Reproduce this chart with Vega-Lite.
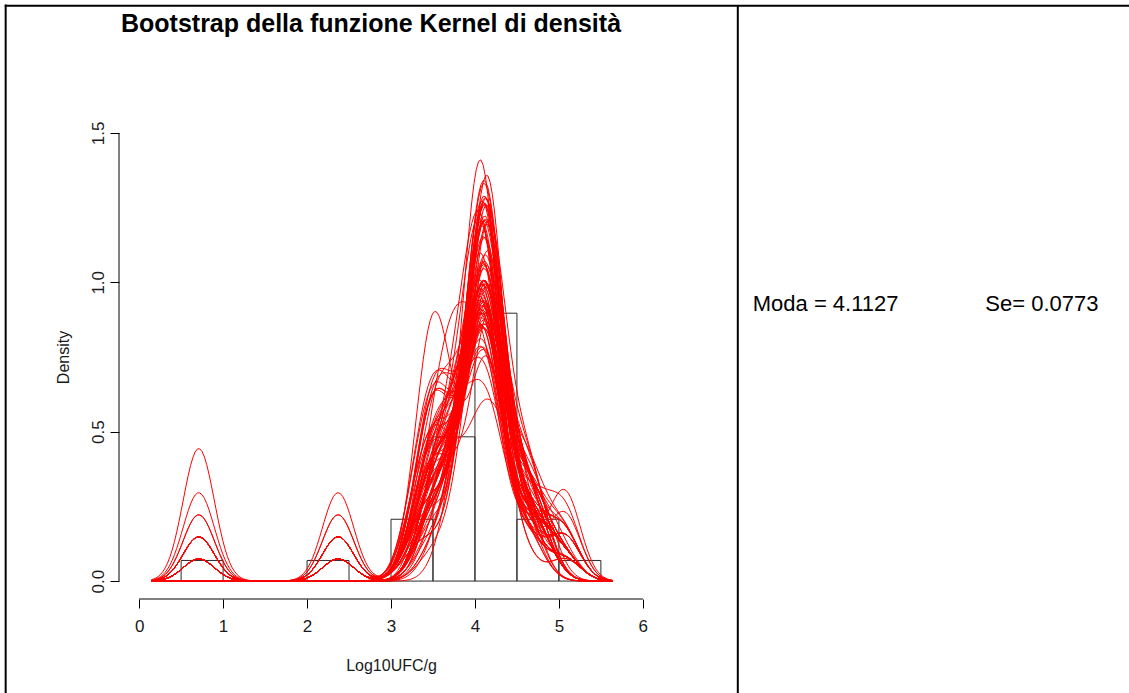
{
  "$schema": "https://vega.github.io/schema/vega-lite/v6.json",
  "width": 544,
  "height": 484,
  "autosize": {"type": "none"},
  "padding": {"left": 119, "top": 115, "right": 466, "bottom": 94},
  "background": "#ffffff",
  "config": {
    "view": {"stroke": null},
    "font": "Liberation Sans",
    "axis": {"labelFlush": false, "grid": false, "domain": false}
  },
  "datasets": {
    "hist": [
      {"lo": 0.5, "hi": 1.0, "density": 0.069},
      {"lo": 1.0, "hi": 1.5, "density": 0},
      {"lo": 1.5, "hi": 2.0, "density": 0},
      {"lo": 2.0, "hi": 2.5, "density": 0.069},
      {"lo": 2.5, "hi": 3.0, "density": 0},
      {"lo": 3.0, "hi": 3.5, "density": 0.2069},
      {"lo": 3.5, "hi": 4.0, "density": 0.4828},
      {"lo": 4.0, "hi": 4.5, "density": 0.8966},
      {"lo": 4.5, "hi": 5.0, "density": 0.2069},
      {"lo": 5.0, "hi": 5.5, "density": 0.069}
    ],
    "boot": [
      {"b": 1, "v": [0.71,2.37,3.28,3.42,3.48,3.54,3.60,3.68,3.76,3.84,3.91,3.97,4.02,4.05,4.07,4.09,4.11,4.12,4.14,4.17,4.20,4.24,4.29,4.36,4.45,4.57,4.68,4.82,5.07]},
      {"b": 2, "v": [2.37,3.28,3.42,3.42,3.48,3.48,3.54,3.54,3.60,3.68,3.68,3.76,3.84,3.91,3.97,4.02,4.05,4.07,4.07,4.11,4.12,4.14,4.17,4.20,4.24,4.36,4.57,4.57,4.68]},
      {"b": 3, "v": [0.71,0.71,3.48,3.68,3.76,3.84,3.91,3.97,4.05,4.07,4.09,4.11,4.11,4.12,4.14,4.14,4.17,4.17,4.20,4.20,4.24,4.29,4.29,4.36,4.57,4.57,4.68,4.82,5.07]},
      {"b": 4, "v": [3.28,3.28,3.42,3.48,3.54,3.60,3.60,3.68,3.76,3.84,3.91,3.91,4.02,4.05,4.07,4.09,4.11,4.14,4.17,4.20,4.24,4.29,4.36,4.45,4.57,4.68,4.68,4.82,5.07]},
      {"b": 5, "v": [0.71,2.37,2.37,3.42,3.48,3.60,3.76,3.84,3.91,3.97,3.97,4.02,4.02,4.05,4.05,4.07,4.09,4.09,4.11,4.12,4.14,4.17,4.20,4.24,4.29,4.36,4.57,4.68,4.82]},
      {"b": 6, "v": [0.71,0.71,0.71,0.71,0.71,0.71,3.28,3.48,3.54,3.68,3.76,3.84,3.91,3.97,4.02,4.05,4.09,4.11,4.12,4.14,4.17,4.20,4.24,4.29,4.36,4.57,4.68,4.82,5.07]},
      {"b": 7, "v": [2.37,3.28,3.28,3.42,3.42,3.48,3.48,3.54,3.60,3.60,3.68,3.76,3.84,3.91,3.97,4.02,4.05,4.07,4.11,4.12,4.14,4.17,4.20,4.29,4.45,4.57,4.68,5.07,5.07]},
      {"b": 8, "v": [0.71,3.68,3.76,3.84,3.91,3.97,3.97,4.02,4.05,4.07,4.07,4.09,4.09,4.11,4.11,4.12,4.14,4.14,4.17,4.20,4.24,4.24,4.29,4.36,4.45,4.57,4.57,4.68,4.82]},
      {"b": 9, "v": [2.37,2.37,2.37,2.37,3.28,3.42,3.48,3.54,3.60,3.68,3.76,3.84,3.91,3.97,4.02,4.05,4.07,4.09,4.11,4.12,4.14,4.17,4.20,4.24,4.29,4.57,4.68,4.82,5.07]},
      {"b": 10, "v": [0.71,0.71,2.37,3.42,3.48,3.54,3.60,3.68,3.76,3.76,3.84,3.91,3.97,3.97,4.02,4.02,4.05,4.07,4.09,4.11,4.12,4.14,4.17,4.17,4.20,4.24,4.36,4.57,4.68]},
      {"b": 11, "v": [0.71,2.37,3.28,3.42,3.48,3.54,3.68,3.76,3.84,3.91,3.97,4.02,4.05,4.07,4.09,4.11,4.12,4.14,4.17,4.20,4.24,4.29,4.36,4.57,4.68,5.07,5.07,5.07,5.07]},
      {"b": 12, "v": [3.28,3.42,3.42,3.42,3.48,3.48,3.48,3.54,3.54,3.54,3.60,3.60,3.68,3.76,3.84,4.02,4.05,4.07,4.09,4.11,4.14,4.17,4.20,4.24,4.29,4.36,4.57,4.68,5.07]},
      {"b": 13, "v": [0.71,0.71,0.71,2.37,3.28,3.42,3.48,3.48,3.54,3.60,3.68,3.76,3.84,3.91,3.97,4.02,4.05,4.09,4.11,4.14,4.17,4.20,4.24,4.29,4.36,4.57,4.68,4.82,5.07]},
      {"b": 14, "v": [2.37,2.37,3.42,3.60,3.76,3.84,3.91,3.97,3.97,4.02,4.02,4.05,4.05,4.07,4.07,4.09,4.11,4.12,4.12,4.14,4.17,4.20,4.24,4.29,4.36,4.45,4.57,4.68,4.82]},
      {"b": 15, "v": [0.71,3.28,3.42,3.48,3.60,3.68,3.76,3.84,3.97,4.02,4.05,4.07,4.09,4.11,4.12,4.14,4.17,4.20,4.24,4.29,4.36,4.45,4.57,4.57,4.68,4.68,4.82,5.07,5.07]},
      {"b": 16, "v": [0.71,0.71,0.71,0.71,2.37,3.28,3.42,3.48,3.54,3.60,3.68,3.76,3.84,3.91,3.97,4.02,4.05,4.07,4.09,4.11,4.12,4.14,4.17,4.20,4.29,4.45,4.57,4.68,4.82]},
      {"b": 17, "v": [3.42,3.48,3.60,3.76,3.84,3.91,3.97,3.97,4.02,4.02,4.05,4.05,4.05,4.05,4.07,4.07,4.09,4.09,4.11,4.12,4.14,4.14,4.17,4.20,4.29,4.57,4.68,4.82,5.07]},
      {"b": 18, "v": [0.71,2.37,2.37,2.37,3.28,3.48,3.54,3.60,3.68,3.68,3.76,3.84,3.91,3.97,4.02,4.05,4.07,4.11,4.14,4.17,4.20,4.24,4.29,4.36,4.57,4.57,4.68,4.82,5.07]},
      {"b": 19, "v": [2.37,3.42,3.48,3.48,3.54,3.60,3.68,3.68,3.76,3.76,3.76,3.76,3.84,3.84,3.91,3.97,4.02,4.05,4.07,4.11,4.12,4.17,4.20,4.24,4.29,4.57,4.68,4.82,5.07]},
      {"b": 20, "v": [0.71,0.71,2.37,2.37,3.28,3.28,3.42,3.48,3.48,3.54,3.60,3.68,3.76,3.84,3.97,4.02,4.07,4.11,4.14,4.20,4.24,4.29,4.36,4.45,4.57,4.68,4.68,4.82,5.07]},
      {"b": 21, "v": [0.71,3.42,3.48,3.54,3.60,3.68,3.76,3.84,3.91,3.97,4.02,4.05,4.07,4.09,4.09,4.11,4.12,4.14,4.17,4.20,4.20,4.24,4.29,4.36,4.57,4.68,5.07,5.07,5.07]},
      {"b": 22, "v": [2.37,3.28,3.42,3.48,3.48,3.54,3.54,3.60,3.68,3.68,3.76,3.84,3.84,3.91,3.97,4.02,4.05,4.07,4.09,4.11,4.12,4.14,4.17,4.20,4.24,4.29,4.36,4.57,4.68]},
      {"b": 23, "v": [0.71,2.37,3.48,3.76,3.84,3.91,3.97,4.05,4.07,4.09,4.11,4.12,4.14,4.14,4.17,4.17,4.20,4.20,4.24,4.24,4.29,4.29,4.36,4.45,4.57,4.57,4.68,4.68,4.82]},
      {"b": 24, "v": [3.28,3.42,3.48,3.54,3.60,3.68,3.76,3.84,3.91,3.97,4.02,4.05,4.05,4.07,4.09,4.11,4.12,4.14,4.17,4.20,4.24,4.29,4.36,4.45,4.57,4.68,4.82,5.07,5.07]},
      {"b": 25, "v": [0.71,0.71,2.37,3.28,3.42,3.42,3.48,3.48,3.54,3.60,3.60,3.68,3.76,3.76,3.84,3.91,3.97,4.02,4.05,4.09,4.11,4.14,4.17,4.20,4.29,4.36,4.57,4.68,5.07]},
      {"b": 26, "v": [0.71,2.37,2.37,3.54,3.68,3.76,3.84,3.91,3.97,3.97,4.02,4.05,4.07,4.09,4.11,4.12,4.14,4.17,4.20,4.24,4.24,4.29,4.36,4.45,4.57,4.68,4.68,4.82,5.07]},
      {"b": 27, "v": [2.37,3.42,3.48,3.68,3.84,3.91,3.97,3.97,4.09,4.11,4.11,4.12,4.12,4.14,4.14,4.14,4.17,4.17,4.17,4.20,4.20,4.20,4.24,4.24,4.29,4.57,4.68,4.82,5.07]},
      {"b": 28, "v": [0.71,3.28,3.42,3.42,3.48,3.54,3.60,3.68,3.76,3.91,3.97,4.02,4.05,4.07,4.09,4.11,4.12,4.14,4.17,4.20,4.24,4.29,4.36,4.45,4.57,4.57,4.68,4.82,4.82]},
      {"b": 29, "v": [2.37,2.37,3.42,3.48,3.54,3.60,3.68,3.76,3.76,3.84,3.91,3.97,4.02,4.05,4.07,4.09,4.11,4.12,4.14,4.17,4.20,4.24,4.29,4.36,4.45,4.57,4.68,4.82,5.07]},
      {"b": 30, "v": [0.71,0.71,0.71,3.28,3.42,3.48,3.54,3.60,3.68,3.68,3.76,3.84,3.84,3.91,3.97,4.02,4.05,4.07,4.09,4.11,4.12,4.14,4.17,4.20,4.24,4.29,4.57,4.68,5.07]},
      {"b": 31, "v": [0.71,2.37,3.42,3.60,3.68,3.76,3.84,3.91,3.97,4.02,4.05,4.07,4.09,4.11,4.12,4.14,4.17,4.20,4.24,4.29,4.29,4.36,4.45,4.57,4.57,4.68,4.82,5.07,5.07]},
      {"b": 32, "v": [3.28,3.42,3.48,3.54,3.60,3.68,3.76,3.84,3.84,3.91,3.91,3.97,3.97,4.02,4.02,4.05,4.05,4.07,4.09,4.11,4.12,4.14,4.17,4.20,4.24,4.29,4.36,4.57,5.07]},
      {"b": 33, "v": [0.71,0.71,2.37,3.28,3.42,3.48,3.48,3.54,3.68,3.76,3.84,3.97,4.05,4.09,4.11,4.14,4.17,4.17,4.20,4.20,4.24,4.24,4.29,4.36,4.45,4.57,4.68,4.68,4.82]},
      {"b": 34, "v": [0.71,2.37,2.37,2.37,3.28,3.42,3.48,3.54,3.60,3.68,3.76,3.84,3.91,3.97,4.02,4.05,4.07,4.09,4.09,4.11,4.12,4.17,4.20,4.29,4.45,4.57,4.68,4.82,5.07]},
      {"b": 35, "v": [2.37,3.42,3.48,3.60,3.68,3.76,3.84,3.91,3.97,4.02,4.07,4.09,4.11,4.12,4.14,4.14,4.17,4.17,4.20,4.24,4.29,4.36,4.57,4.68,4.68,4.82,5.07,5.07,5.07]},
      {"b": 36, "v": [0.71,3.42,3.48,3.54,3.68,3.76,3.84,3.91,3.97,3.97,4.02,4.02,4.05,4.05,4.07,4.07,4.09,4.11,4.12,4.14,4.17,4.20,4.24,4.29,4.36,4.45,4.57,4.68,5.07]},
      {"b": 37, "v": [2.37,2.37,3.28,3.42,3.48,3.54,3.60,3.76,3.84,3.91,3.97,4.05,4.07,4.09,4.11,4.12,4.14,4.17,4.17,4.20,4.20,4.24,4.24,4.29,4.29,4.36,4.57,4.68,4.82]},
      {"b": 38, "v": [0.71,0.71,3.28,3.28,3.42,3.42,3.48,3.48,3.54,3.54,3.60,3.68,3.76,3.76,3.84,3.91,3.97,4.02,4.07,4.11,4.14,4.17,4.20,4.29,4.36,4.57,4.68,5.07,5.07]},
      {"b": 39, "v": [0.71,2.37,3.28,3.42,3.42,3.48,3.48,3.54,3.54,3.60,3.68,3.76,3.84,3.91,3.97,4.02,4.05,4.07,4.09,4.11,4.14,4.17,4.20,4.24,4.36,4.57,4.68,4.82,5.07]},
      {"b": 40, "v": [3.42,3.48,3.54,3.60,3.68,3.76,3.76,3.84,3.84,3.91,3.91,3.97,3.97,4.02,4.02,4.05,4.07,4.07,4.09,4.11,4.12,4.14,4.17,4.20,4.24,4.29,4.36,4.57,5.07]},
      {"b": 41, "v": [0.71,2.37,2.37,3.28,3.42,3.48,3.60,3.68,3.76,3.84,3.91,3.97,4.02,4.05,4.07,4.11,4.12,4.14,4.17,4.20,4.24,4.29,4.36,4.36,4.57,4.68,4.82,5.07,5.07]},
      {"b": 42, "v": [2.37,3.28,3.48,3.54,3.68,3.76,3.84,3.91,3.97,4.05,4.07,4.09,4.09,4.11,4.11,4.12,4.14,4.14,4.17,4.20,4.24,4.29,4.36,4.45,4.57,4.57,4.68,4.68,4.82]},
      {"b": 43, "v": [0.71,3.28,3.42,3.42,3.48,3.54,3.60,3.68,3.76,3.84,3.91,3.97,4.02,4.05,4.07,4.09,4.11,4.12,4.14,4.14,4.17,4.20,4.24,4.29,4.36,4.45,4.57,4.68,5.07]},
      {"b": 44, "v": [0.71,0.71,2.37,3.42,3.48,3.54,3.60,3.68,3.76,3.76,3.84,3.84,3.91,3.97,4.02,4.02,4.05,4.07,4.09,4.11,4.14,4.17,4.20,4.20,4.24,4.29,4.57,4.68,5.07]},
      {"b": 45, "v": [2.37,3.28,3.42,3.48,3.54,3.60,3.68,3.84,3.91,3.97,4.02,4.05,4.07,4.11,4.12,4.14,4.14,4.17,4.20,4.24,4.29,4.36,4.45,4.57,4.68,4.68,4.82,5.07,5.07]},
      {"b": 46, "v": [0.71,2.37,2.37,3.28,3.42,3.48,3.60,3.76,3.84,3.91,3.97,4.02,4.05,4.07,4.09,4.09,4.11,4.12,4.14,4.17,4.20,4.24,4.29,4.36,4.45,4.57,4.57,4.68,4.82]},
      {"b": 47, "v": [3.42,3.48,3.54,3.60,3.68,3.76,3.84,3.91,3.97,4.02,4.05,4.05,4.07,4.09,4.09,4.11,4.12,4.12,4.14,4.17,4.20,4.24,4.29,4.36,4.45,4.57,4.68,4.82,5.07]},
      {"b": 48, "v": [0.71,2.37,3.28,3.42,3.48,3.48,3.54,3.60,3.68,3.76,3.84,3.84,3.91,3.97,4.02,4.05,4.07,4.09,4.11,4.12,4.14,4.20,4.20,4.24,4.36,4.57,4.68,4.82,5.07]},
      {"b": 49, "v": [0.71,0.71,2.37,3.28,3.42,3.48,3.60,3.68,3.76,3.84,3.91,3.91,3.97,4.02,4.05,4.05,4.07,4.09,4.12,4.14,4.17,4.20,4.24,4.29,4.36,4.45,4.57,4.68,4.82]},
      {"b": 50, "v": [2.37,3.48,3.54,3.60,3.68,3.76,3.84,3.91,3.97,3.97,4.02,4.05,4.07,4.09,4.11,4.12,4.14,4.14,4.17,4.20,4.24,4.29,4.36,4.45,4.57,4.68,4.68,4.82,5.07]},
      {"b": 51, "v": [0.71,3.28,3.28,3.42,3.48,3.48,3.54,3.60,3.68,3.76,3.84,3.91,3.97,4.02,4.05,4.07,4.09,4.11,4.12,4.14,4.17,4.20,4.24,4.29,4.45,4.57,4.68,4.82,5.07]},
      {"b": 52, "v": [2.37,3.28,3.42,3.48,3.54,3.60,3.60,3.68,3.76,3.84,3.91,3.97,3.97,4.02,4.05,4.07,4.07,4.09,4.11,4.12,4.14,4.17,4.20,4.24,4.29,4.36,4.45,4.57,4.68]},
      {"b": 53, "v": [0.71,2.37,3.42,3.48,3.54,3.60,3.68,3.76,3.84,3.91,3.97,4.02,4.05,4.07,4.09,4.11,4.12,4.14,4.17,4.20,4.24,4.29,4.36,4.45,4.57,4.68,4.82,5.07,5.07]},
      {"b": 54, "v": [0.71,0.71,3.28,3.42,3.42,3.48,3.54,3.68,3.76,3.84,3.91,3.97,4.02,4.05,4.09,4.11,4.12,4.14,4.17,4.20,4.24,4.29,4.36,4.45,4.57,4.68,4.82,4.82,5.07]},
      {"b": 55, "v": [2.37,2.37,3.28,3.42,3.48,3.54,3.60,3.68,3.76,3.76,3.84,3.91,3.97,4.02,4.05,4.07,4.09,4.11,4.12,4.14,4.17,4.20,4.24,4.29,4.36,4.57,4.68,4.82,5.07]},
      {"b": 56, "v": [0.71,2.37,3.42,3.48,3.60,3.68,3.76,3.84,3.91,3.97,4.02,4.05,4.07,4.09,4.11,4.11,4.12,4.14,4.14,4.17,4.17,4.20,4.24,4.29,4.36,4.45,4.57,4.68,4.82]},
      {"b": 57, "v": [3.28,3.42,3.48,3.48,3.54,3.60,3.68,3.68,3.76,3.84,3.91,3.97,4.02,4.05,4.07,4.09,4.11,4.12,4.14,4.17,4.20,4.24,4.29,4.36,4.45,4.57,4.68,5.07,5.07]},
      {"b": 58, "v": [0.71,2.37,3.28,3.42,3.48,3.60,3.76,3.84,3.91,3.97,4.02,4.05,4.07,4.09,4.11,4.12,4.14,4.17,4.20,4.20,4.24,4.29,4.36,4.45,4.57,4.57,4.68,4.82,5.07]},
      {"b": 59, "v": [2.37,3.28,3.42,3.42,3.48,3.48,3.48,3.54,3.60,3.68,3.76,3.84,3.91,3.97,4.02,4.05,4.07,4.09,4.11,4.12,4.14,4.17,4.20,4.24,4.36,4.57,4.68,4.82,5.07]},
      {"b": 60, "v": [0.71,0.71,3.28,3.42,3.48,3.54,3.60,3.68,3.76,3.84,3.91,3.97,3.97,4.02,4.05,4.07,4.09,4.11,4.12,4.14,4.17,4.20,4.24,4.29,4.36,4.45,4.57,4.68,4.82]},
      {"b": 61, "v": [0.71,2.37,2.37,3.28,3.48,3.54,3.60,3.68,3.76,3.84,3.91,3.97,4.02,4.05,4.07,4.09,4.11,4.14,4.17,4.20,4.24,4.29,4.36,4.45,4.57,4.68,4.68,4.82,5.07]},
      {"b": 62, "v": [2.37,3.28,3.42,3.48,3.54,3.68,3.76,3.84,3.91,3.97,4.02,4.05,4.07,4.07,4.09,4.11,4.12,4.14,4.17,4.20,4.20,4.24,4.29,4.36,4.45,4.57,4.68,4.82,5.07]},
      {"b": 63, "v": [0.71,3.28,3.42,3.42,3.48,3.54,3.60,3.68,3.76,3.76,3.84,3.91,3.97,3.97,4.02,4.05,4.07,4.09,4.11,4.12,4.14,4.17,4.20,4.24,4.29,4.57,4.68,5.07,5.07]},
      {"b": 64, "v": [2.37,3.42,3.48,3.54,3.60,3.68,3.76,3.84,3.91,3.97,4.05,4.07,4.09,4.11,4.12,4.14,4.17,4.20,4.24,4.24,4.29,4.29,4.36,4.45,4.57,4.57,4.68,4.68,4.82]},
      {"b": 65, "v": [0.71,2.37,3.28,3.42,3.48,3.54,3.60,3.68,3.76,3.84,3.91,3.97,3.97,4.02,4.05,4.07,4.09,4.11,4.12,4.14,4.17,4.20,4.24,4.29,4.36,4.45,4.57,4.68,5.07]},
      {"b": 66, "v": [3.28,3.42,3.42,3.48,3.48,3.54,3.54,3.60,3.68,3.76,3.84,3.91,3.97,4.02,4.05,4.07,4.09,4.11,4.12,4.14,4.17,4.20,4.24,4.29,4.36,4.57,4.68,4.82,5.07]},
      {"b": 67, "v": [0.71,0.71,2.37,3.42,3.48,3.60,3.68,3.76,3.84,3.91,3.97,4.02,4.05,4.07,4.09,4.11,4.12,4.12,4.14,4.17,4.20,4.24,4.29,4.36,4.45,4.57,4.68,4.82,5.07]},
      {"b": 68, "v": [0.71,2.37,3.28,3.42,3.48,3.54,3.60,3.68,3.76,3.84,3.91,3.97,4.02,4.05,4.07,4.09,4.11,4.12,4.14,4.14,4.17,4.20,4.24,4.29,4.36,4.45,4.57,4.68,4.82]},
      {"b": 69, "v": [2.37,2.37,3.28,3.42,3.48,3.48,3.54,3.60,3.68,3.76,3.76,3.84,3.91,3.97,3.97,4.02,4.05,4.07,4.09,4.11,4.12,4.14,4.17,4.20,4.29,4.36,4.57,4.68,5.07]},
      {"b": 70, "v": [0.71,3.48,3.54,3.60,3.68,3.76,3.84,3.91,3.97,4.02,4.05,4.07,4.09,4.11,4.12,4.14,4.17,4.17,4.20,4.24,4.29,4.29,4.36,4.45,4.57,4.57,4.68,4.82,5.07]},
      {"b": 71, "v": [2.37,3.42,3.48,3.68,3.76,3.84,3.91,3.97,3.97,4.05,4.07,4.09,4.11,4.11,4.12,4.12,4.14,4.14,4.17,4.17,4.20,4.20,4.24,4.29,4.36,4.57,4.68,4.82,5.07]},
      {"b": 72, "v": [0.71,3.28,3.48,3.76,3.84,3.91,3.97,3.97,4.05,4.07,4.09,4.11,4.11,4.12,4.12,4.14,4.14,4.17,4.17,4.20,4.20,4.24,4.29,4.36,4.45,4.57,4.57,4.68,4.82]},
      {"b": 73, "v": [3.48,3.60,3.68,3.76,3.84,3.91,3.97,3.97,4.02,4.05,4.07,4.09,4.11,4.11,4.12,4.12,4.14,4.14,4.17,4.17,4.20,4.20,4.24,4.29,4.36,4.57,4.68,4.82,5.07]},
      {"b": 74, "v": [0.71,2.37,3.42,3.48,3.54,3.76,3.84,3.91,3.91,3.97,4.05,4.07,4.09,4.11,4.11,4.11,4.12,4.14,4.14,4.17,4.17,4.20,4.24,4.24,4.29,4.45,4.57,4.68,4.82]},
      {"b": 75, "v": [2.37,3.28,3.42,3.48,3.68,3.84,3.91,3.97,3.97,4.05,4.07,4.09,4.11,4.12,4.12,4.14,4.14,4.17,4.17,4.20,4.20,4.24,4.24,4.29,4.36,4.45,4.57,4.68,5.07]},
      {"b": 76, "v": [0.71,3.42,3.48,3.60,3.76,3.84,3.91,3.97,3.97,4.02,4.05,4.07,4.09,4.09,4.11,4.12,4.12,4.14,4.14,4.14,4.17,4.20,4.24,4.29,4.36,4.57,4.57,4.68,5.07]},
      {"b": 77, "v": [3.42,3.48,3.60,3.68,3.76,3.84,3.91,3.97,3.97,4.05,4.07,4.09,4.11,4.11,4.12,4.14,4.14,4.17,4.17,4.20,4.20,4.24,4.29,4.36,4.45,4.57,4.57,4.68,4.82]},
      {"b": 78, "v": [0.71,2.37,3.28,3.48,3.76,3.84,3.91,3.97,3.97,4.05,4.07,4.09,4.09,4.11,4.11,4.12,4.12,4.14,4.17,4.17,4.20,4.20,4.24,4.29,4.36,4.57,4.68,4.82,5.07]},
      {"b": 79, "v": [2.37,3.42,3.48,3.60,3.68,3.84,3.91,3.97,3.97,4.02,4.05,4.07,4.07,4.09,4.11,4.11,4.12,4.14,4.14,4.17,4.20,4.20,4.24,4.24,4.29,4.45,4.57,4.68,5.07]},
      {"b": 80, "v": [0.71,3.48,3.68,3.76,3.84,3.91,3.97,3.97,4.05,4.07,4.09,4.11,4.11,4.12,4.12,4.14,4.14,4.17,4.17,4.20,4.20,4.24,4.29,4.36,4.45,4.57,4.57,4.68,4.82]},
      {"b": 81, "v": [3.42,3.48,3.54,3.68,3.76,3.84,3.91,3.97,3.97,4.02,4.05,4.07,4.09,4.11,4.11,4.12,4.14,4.14,4.17,4.17,4.20,4.24,4.29,4.36,4.45,4.57,4.68,4.82,5.07]},
      {"b": 82, "v": [2.37,3.28,3.42,3.48,3.60,3.76,3.84,3.91,3.97,3.97,4.05,4.07,4.09,4.09,4.11,4.12,4.12,4.14,4.14,4.17,4.20,4.20,4.24,4.29,4.36,4.45,4.57,4.57,4.68]}
    ]
  },
  "layer": [
    {
      "data": {"name": "hist"},
      "mark": {"type": "rect", "filled": false, "stroke": "#2b2b2b", "strokeWidth": 1},
      "encoding": {
        "x": {
          "field": "lo", "type": "quantitative", "title": "Log10UFC/g",
          "scale": {"domain": [-0.24, 6.24], "nice": false, "zero": false},
          "axis": {
            "values": [0, 1, 2, 3, 4, 5, 6], "format": "d",
            "tickSize": 9, "tickColor": "#000000", "tickWidth": 1,
            "labelFont": "Liberation Sans", "labelFontSize": 17, "labelColor": "#1a1a1a", "labelPadding": 10,
            "titleFont": "Liberation Sans", "titleFontSize": 16, "titleFontWeight": "normal", "titleColor": "#1a1a1a", "titlePadding": 23
          }
        },
        "x2": {"field": "hi"},
        "y": {
          "field": "density", "type": "quantitative", "title": "Density",
          "scale": {"domain": [-0.06, 1.56], "nice": false, "zero": false},
          "axis": {
            "values": [0, 0.5, 1, 1.5], "format": ".1f",
            "tickSize": 9, "tickColor": "#000000", "tickWidth": 1,
            "labelAngle": 270, "labelAlign": "center", "labelBaseline": "alphabetic",
            "labelFont": "Liberation Sans", "labelFontSize": 17, "labelColor": "#1a1a1a", "labelPadding": 7,
            "titleFont": "Liberation Sans", "titleFontSize": 16, "titleFontWeight": "normal", "titleColor": "#1a1a1a", "titlePadding": 18
          }
        },
        "y2": {"datum": 0}
      }
    },
    {
      "data": {"name": "boot"},
      "transform": [
        {"flatten": ["v"]},
        {"density": "v", "groupby": ["b"], "bandwidth": 0.186, "extent": [0.146, 5.635], "steps": 200}
      ],
      "mark": {"type": "line", "stroke": "#ff0000", "strokeWidth": 1},
      "encoding": {
        "x": {"field": "value", "type": "quantitative", "title": "Log10UFC/g"},
        "y": {"field": "density", "type": "quantitative", "title": "Density"},
        "detail": {"field": "b", "type": "nominal"}
      }
    },
    {
      "data": {"values": [{}]},
      "mark": {"type": "rule", "stroke": "#000000", "strokeWidth": 1},
      "encoding": {"x": {"datum": 0}, "x2": {"datum": 6}, "y": {"datum": -0.06}}
    },
    {
      "data": {"values": [{}]},
      "mark": {"type": "rule", "stroke": "#000000", "strokeWidth": 1},
      "encoding": {"x": {"datum": -0.24}, "y": {"datum": 0}, "y2": {"datum": 1.5}}
    },
    {
      "data": {"values": [{}]},
      "mark": {"type": "rule", "stroke": "#000000", "strokeWidth": 2},
      "encoding": {"x": {"datum": -1.6}, "x2": {"datum": 12}, "y": {"datum": 1.926}}
    },
    {
      "data": {"values": [{}]},
      "mark": {"type": "rule", "stroke": "#000000", "strokeWidth": 2},
      "encoding": {"x": {"datum": -1.59}, "y": {"datum": 1.93}, "y2": {"datum": -0.5}}
    },
    {
      "data": {"values": [{}]},
      "mark": {"type": "rule", "stroke": "#000000", "strokeWidth": 2},
      "encoding": {"x": {"datum": 7.131}, "y": {"datum": 1.926}, "y2": {"datum": -0.5}}
    },
    {
      "data": {"values": [{}]},
      "mark": {"type": "text", "text": "Bootstrap della funzione Kernel di densità", "font": "Liberation Sans", "fontSize": 25, "fontWeight": "bold", "align": "center", "baseline": "alphabetic", "color": "#000000"},
      "encoding": {"x": {"datum": 2.762}, "y": {"datum": 1.838}}
    },
    {
      "data": {"values": [{}]},
      "mark": {"type": "text", "text": "Moda = 4.1127", "font": "Liberation Sans", "fontSize": 22, "align": "left", "baseline": "alphabetic", "color": "#000000"},
      "encoding": {"x": {"datum": 7.309}, "y": {"datum": 0.904}}
    },
    {
      "data": {"values": [{}]},
      "mark": {"type": "text", "text": "Se= 0.0773", "font": "Liberation Sans", "fontSize": 22, "align": "left", "baseline": "alphabetic", "color": "#000000"},
      "encoding": {"x": {"datum": 10.08}, "y": {"datum": 0.904}}
    }
  ]
}
